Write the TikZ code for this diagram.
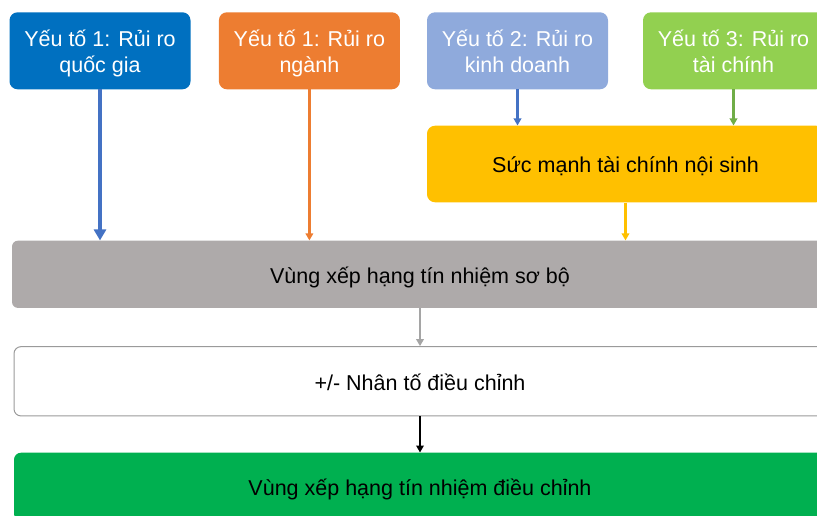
\documentclass[tikz,border=0pt]{standalone}
\usepackage{fontspec}
\setmainfont{Liberation Sans}
\usetikzlibrary{arrows.meta}
\definecolor{cBlue}{HTML}{0070C0}
\definecolor{cOrange}{HTML}{ED7D31}
\definecolor{cLBlue}{HTML}{8FAADC}
\definecolor{cLGreen}{HTML}{92D050}
\definecolor{cYellow}{HTML}{FFC000}
\definecolor{cGray}{HTML}{AEAAAA}
\definecolor{cGreen}{HTML}{00B050}
\definecolor{aBlue}{HTML}{4472C4}
\definecolor{aGreen}{HTML}{70AD47}
\definecolor{aGray}{HTML}{A5A5A5}
\definecolor{bGray}{HTML}{9A9A9A}
\begin{document}
\begin{tikzpicture}[x=1pt,y=-1pt,
  box/.style={inner sep=0pt, rounded corners=8pt, align=center,
    font=\fontsize{21.5}{25.5}\selectfont},
  topbox/.style={box, text=white, minimum width=181pt, minimum height=77pt,
    text height=45pt, text depth=2.2pt},
  widebox/.style={box, text=black, text height=20pt, text depth=2pt},
  arr/.style={line width=2.2pt, -{Triangle[length=7pt,width=7.5pt]}},
  arrthick/.style={line width=3.5pt, -{Triangle[length=11pt,width=12pt]}}
]
\useasboundingbox (0,0) rectangle (817,516);
\clip (0,0) rectangle (817,516);
\node[topbox, fill=cBlue]   (b1) at (100,50.8)   {Yếu tố 1: Rủi ro\\quốc gia};
\node[topbox, fill=cOrange] (b2) at (309.4,50.8) {Yếu tố 1: Rủi ro\\ngành};
\node[topbox, fill=cLBlue]  (b3) at (517.5,50.8) {Yếu tố 2: Rủi ro\\kinh doanh};
\node[topbox, fill=cLGreen] (b4) at (733.5,50.8) {Yếu tố 3: Rủi ro\\tài chính};
\node[widebox, fill=cYellow, minimum width=397pt, minimum height=76.6pt] (yel) at (625.5,164) {Sức mạnh tài chính nội sinh};
\node[widebox, fill=cGray, rounded corners=6pt, minimum width=816pt, minimum height=67.3pt] (gray) at (420,274.3) {Vùng xếp hạng tín nhiệm sơ bộ};
\node[widebox, fill=white, draw=bGray, line width=1pt, rounded corners=7pt, minimum width=812pt, minimum height=69.3pt] (adj) at (420,381.3) {+/- Nhân tố điều chỉnh};
\node[widebox, fill=cGreen, rounded corners=7pt, minimum width=812pt, minimum height=68pt] (fin) at (420,486.7) {Vùng xếp hạng tín nhiệm điều chỉnh};
\draw[arrthick, aBlue] (b1.south) -- (b1.south |- gray.north);
\draw[arr, cOrange] (b2.south) -- (b2.south |- gray.north);
\draw[arr, aBlue] (b3.south) -- (b3.south |- yel.north);
\draw[arr, aGreen] (b4.south) -- (b4.south |- yel.north);
\draw[arr, cYellow] (yel.south) -- (yel.south |- gray.north);
\draw[arr, aGray] (gray.south) -- (adj.north);
\draw[arr, black] (adj.south) -- (fin.north);
\end{tikzpicture}
\end{document}
